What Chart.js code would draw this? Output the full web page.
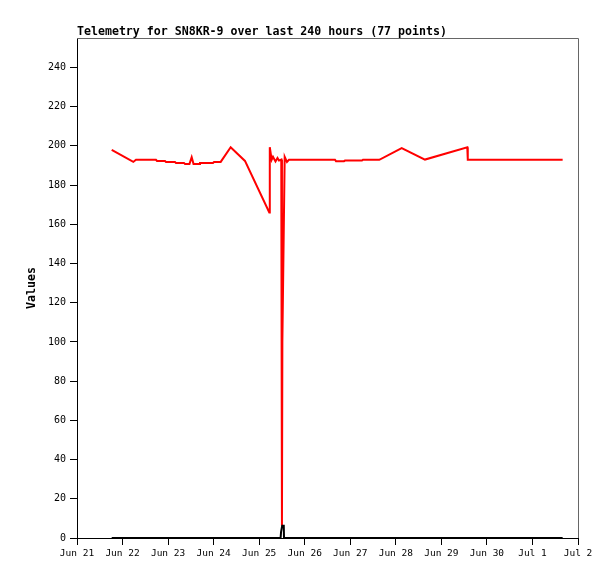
<!DOCTYPE html>
<html>
<head>
<meta charset="utf-8">
<script src="https://cdn.jsdelivr.net/npm/chart.js@4"></script>
<style>
  html, body { margin: 0; padding: 0; background: #fff; }
  #wrap { width: 615px; height: 579px; }
</style>
</head>
<body>
<div id="wrap"><canvas id="telemetryChart" width="615" height="579"></canvas></div>
<script>
// tick labels, one per day starting Jun 21
const dayLabels = ['Jun 21', 'Jun 22', 'Jun 23', 'Jun 24', 'Jun 25', 'Jun 26',
  'Jun 27', 'Jun 28', 'Jun 29', 'Jun 30', 'Jul 1', 'Jul 2'];

// red series: days since Jun 21 00:00, and values
const redDays = [0.762, 1.236, 1.295, 1.734, 1.756, 1.932, 1.954, 2.151, 2.173, 2.349,
  2.371, 2.47, 2.518, 2.558, 2.689, 2.70, 2.986, 3.008, 3.155, 3.374,
  3.688, 4.222, 4.233, 4.274, 4.303, 4.358, 4.402, 4.435, 4.485, 4.50,
  4.509, 4.560, 4.61, 4.654, 5.664, 5.686, 5.862, 5.884, 6.257, 6.279,
  6.637, 7.129, 7.64, 8.569, 8.58, 10.663];
const redValues = [198, 191.8, 192.9, 192.9, 192.3, 192.3, 191.8, 191.8, 191.3, 191.3,
  190.8, 190.8, 194.2, 190.8, 190.8, 191.3, 191.3, 191.8, 191.8, 199.3,
  192.3, 166, 199.3, 192.9, 194.4, 192, 193.8, 192.5, 193, 6.3,
  100, 194.4, 191.8, 192.9, 192.9, 192.2, 192.2, 192.5, 192.5, 192.9,
  192.9, 198.8, 193, 199.3, 192.9, 192.9];

// black series
const blackDays = [0.762, 4.47, 4.48, 4.50, 4.505, 4.54, 4.545, 10.663];
const blackValues = [0, 0, 3, 3, 6.3, 6.3, 0, 0];

const toPoints = (xs, ys) => xs.map((x, i) => ({ x: x, y: ys[i] }));

const monoFont = "'DejaVu Sans Mono', monospace";

// title and grey top/right frame
const framePlugin = {
  id: 'frame',
  afterDraw(chart) {
    const { ctx, chartArea } = chart;
    ctx.save();
    ctx.strokeStyle = '#666';
    ctx.lineWidth = 1;
    ctx.beginPath();
    ctx.moveTo(chartArea.left, chartArea.top + 0.5);
    ctx.lineTo(chartArea.right + 0.5, chartArea.top + 0.5);
    ctx.lineTo(chartArea.right + 0.5, chartArea.bottom);
    ctx.stroke();
    ctx.fillStyle = '#000';
    ctx.font = 'bold 11.6px ' + monoFont;
    ctx.textBaseline = 'alphabetic';
    ctx.fillText('Telemetry for SN8KR-9 over last 240 hours (77 points)', chartArea.left, 35);
    ctx.restore();
  }
};

const telemetryChart = new Chart(document.getElementById('telemetryChart'), {
  type: 'line',
  data: {
    datasets: [
      {
        label: 'black',
        data: toPoints(blackDays, blackValues),
        borderColor: '#000',
        borderWidth: 2,
        pointRadius: 0,
        tension: 0,
        clip: false,
      },
      {
        label: 'red',
        data: toPoints(redDays, redValues),
        borderColor: '#ff0000',
        borderWidth: 2,
        pointRadius: 0,
        tension: 0,
        clip: false,
      },
    ],
  },
  options: {
    responsive: false,
    animation: false,
    layout: { padding: { top: 38, right: 37, left: 0, bottom: 0 } },
    plugins: {
      legend: { display: false },
      title: { display: false },
      tooltip: { enabled: false },
    },
    scales: {
      x: {
        type: 'linear',
        min: 0,
        max: 11,
        afterFit: (scale) => { scale.height = 41; },
        border: { color: '#000', width: 1 },
        grid: { drawOnChartArea: false, drawTicks: true, tickLength: 7, color: '#000' },
        ticks: {
          stepSize: 1,
          padding: 3,
          color: '#000',
          maxRotation: 0,
          autoSkip: false,
          font: { family: monoFont, size: 9.5 },
          callback: (v) => dayLabels[v],
        },
      },
      y: {
        min: 0,
        max: 255,
        afterFit: (scale) => { scale.width = 77; },
        border: { color: '#000', width: 1 },
        grid: { drawOnChartArea: false, drawTicks: true, tickLength: 7, color: '#000' },
        ticks: {
          stepSize: 20,
          padding: 4,
          color: '#000',
          font: { family: monoFont, size: 10 },
          callback: (v) => (v % 20 === 0 ? v : null),
        },
        title: {
          display: true,
          text: 'Values',
          color: '#000',
          font: { family: monoFont, size: 11.6, weight: 'bold' },
          padding: { top: 25, bottom: 0 },
        },
      },
    },
  },
  plugins: [framePlugin],
});
</script>
</body>
</html>
